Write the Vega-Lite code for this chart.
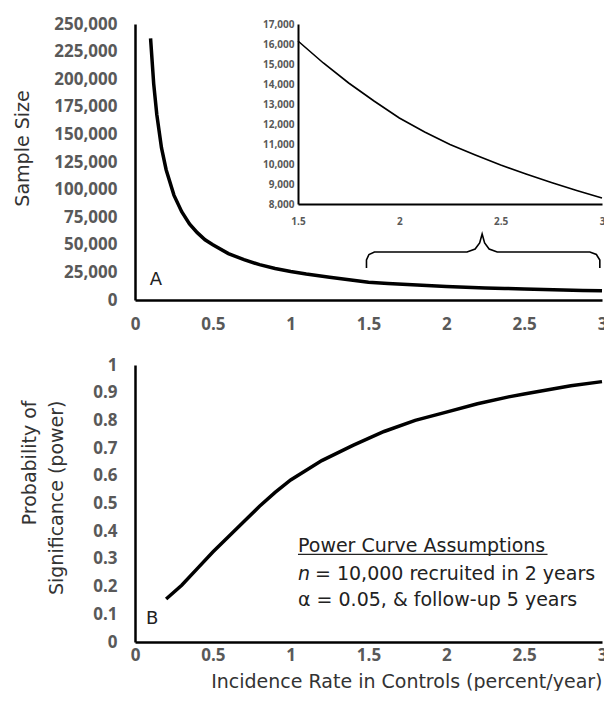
{
  "$schema": "https://vega.github.io/schema/vega-lite/v6.json",
  "background": "white",
  "padding": {"left": 13, "top": 15, "right": 0, "bottom": 0},
  "datasets": {
    "sample": [
      {"x": 0.1, "y": 237000}, {"x": 0.12, "y": 196000}, {"x": 0.14, "y": 168000},
      {"x": 0.17, "y": 138000}, {"x": 0.2, "y": 118000}, {"x": 0.25, "y": 95000},
      {"x": 0.3, "y": 80000}, {"x": 0.35, "y": 69000}, {"x": 0.4, "y": 61000},
      {"x": 0.45, "y": 54500}, {"x": 0.5, "y": 50000}, {"x": 0.6, "y": 42000},
      {"x": 0.7, "y": 36500}, {"x": 0.8, "y": 32000}, {"x": 0.9, "y": 28500},
      {"x": 1.0, "y": 25800}, {"x": 1.1, "y": 23500}, {"x": 1.25, "y": 20700},
      {"x": 1.375, "y": 18300}, {"x": 1.5, "y": 16150}, {"x": 1.625, "y": 15050},
      {"x": 1.75, "y": 14050}, {"x": 1.875, "y": 13150}, {"x": 2.0, "y": 12300},
      {"x": 2.125, "y": 11600}, {"x": 2.25, "y": 10980}, {"x": 2.375, "y": 10450},
      {"x": 2.5, "y": 9950}, {"x": 2.625, "y": 9500}, {"x": 2.75, "y": 9070},
      {"x": 2.875, "y": 8670}, {"x": 3.0, "y": 8300}
    ],
    "inset": [
      {"x": 1.5, "y": 16150}, {"x": 1.625, "y": 15050}, {"x": 1.75, "y": 14050},
      {"x": 1.875, "y": 13150}, {"x": 2.0, "y": 12300}, {"x": 2.125, "y": 11600},
      {"x": 2.25, "y": 10980}, {"x": 2.375, "y": 10450}, {"x": 2.5, "y": 9950},
      {"x": 2.625, "y": 9500}, {"x": 2.75, "y": 9070}, {"x": 2.875, "y": 8670},
      {"x": 3.0, "y": 8300}
    ],
    "brace": [
      {"i": 1, "x": 1.487, "y": 28986}, {"i": 2, "x": 1.487, "y": 36232},
      {"i": 3, "x": 1.503, "y": 41214}, {"i": 4, "x": 1.538, "y": 43478},
      {"i": 5, "x": 2.133, "y": 43478}, {"i": 6, "x": 2.185, "y": 46196},
      {"i": 7, "x": 2.214, "y": 51631}, {"i": 8, "x": 2.23, "y": 59783},
      {"i": 9, "x": 2.246, "y": 51631}, {"i": 10, "x": 2.275, "y": 46196},
      {"i": 11, "x": 2.327, "y": 43478}, {"i": 12, "x": 2.922, "y": 43478},
      {"i": 13, "x": 2.964, "y": 41214}, {"i": 14, "x": 2.986, "y": 36232},
      {"i": 15, "x": 2.986, "y": 28986}
    ],
    "power": [
      {"x": 0.2, "y": 0.155}, {"x": 0.3, "y": 0.205}, {"x": 0.4, "y": 0.265},
      {"x": 0.5, "y": 0.325}, {"x": 0.6, "y": 0.38}, {"x": 0.7, "y": 0.435},
      {"x": 0.8, "y": 0.49}, {"x": 0.9, "y": 0.54}, {"x": 1.0, "y": 0.585},
      {"x": 1.2, "y": 0.655}, {"x": 1.4, "y": 0.71}, {"x": 1.5, "y": 0.735},
      {"x": 1.6, "y": 0.76}, {"x": 1.8, "y": 0.8}, {"x": 2.0, "y": 0.83},
      {"x": 2.2, "y": 0.86}, {"x": 2.4, "y": 0.885}, {"x": 2.5, "y": 0.895},
      {"x": 2.6, "y": 0.905}, {"x": 2.8, "y": 0.925}, {"x": 3.0, "y": 0.94}
    ]
  },
  "vconcat": [
    {
      "width": 467,
      "height": 276,
      "layer": [
        {
          "encoding": {
            "x": {"field": "x", "type": "quantitative",
                  "scale": {"domain": [0, 3], "nice": false},
                  "axis": {"values": [0, 0.5, 1, 1.5, 2, 2.5, 3], "labelExpr": "format(datum.value, '~g')", "labelPadding": 16, "title": null}},
            "y": {"field": "y", "type": "quantitative",
                  "scale": {"domain": [0, 250000], "nice": false},
                  "axis": {"values": [0, 25000, 50000, 75000, 100000, 125000, 150000, 175000, 200000, 225000, 250000],
                           "labelExpr": "format(datum.value, ',')", "labelPadding": 18, "title": "Sample Size", "titlePadding": 21, "titleY": 124}}
          },
          "layer": [
            {
              "data": {"name": "sample"},
              "mark": {"type": "line", "color": "black", "strokeWidth": 3.5}
            },
            {
              "data": {"name": "brace"},
              "mark": {"type": "line", "color": "black", "strokeWidth": 1.6},
              "encoding": {
                "order": {"field": "i"}
              }
            },
            {
              "data": {"values": [{"x": 0.135, "y": 18100, "label": "A"}]},
              "mark": {"type": "text", "font": "DejaVu Sans", "fontSize": 18, "color": "#222", "baseline": "middle", "align": "center"},
              "encoding": {
                "text": {"field": "label"}
              }
            }
          ]
        },
        {
          "data": {"name": "inset"},
          "mark": {"type": "line", "color": "black", "strokeWidth": 1.6},
          "encoding": {
            "x": {"field": "x", "type": "quantitative",
                  "scale": {"domain": [1.5, 3], "nice": false, "range": [163, 467]},
                  "axis": {"orient": "bottom", "offset": -96, "values": [1.5, 2, 2.5, 3], "labelExpr": "format(datum.value, '~g')",
                           "labelFontSize": 10, "labelPadding": 12, "domainWidth": 2, "title": null}},
            "y": {"field": "y", "type": "quantitative",
                  "scale": {"domain": [8000, 17000], "nice": false, "range": [180, 0]},
                  "axis": {"orient": "left", "offset": -163,
                           "values": [8000, 9000, 10000, 11000, 12000, 13000, 14000, 15000, 16000, 17000],
                           "labelExpr": "format(datum.value, ',')", "labelFontSize": 10, "labelPadding": 4, "domainWidth": 2, "title": null}}
          }
        }
      ],
      "resolve": {"scale": {"x": "independent", "y": "independent"}}
    },
    {
      "width": 467,
      "height": 277,
      "encoding": {
        "x": {"field": "x", "type": "quantitative",
              "scale": {"domain": [0, 3], "nice": false},
              "axis": {"values": [0, 0.5, 1, 1.5, 2, 2.5, 3], "labelExpr": "format(datum.value, '~g')", "labelPadding": 5,
                       "title": "Incidence Rate in Controls (percent/year)", "titlePadding": 9, "titleAnchor": "end"}},
        "y": {"field": "y", "type": "quantitative",
              "scale": {"domain": [0, 1], "nice": false},
              "axis": {"values": [0, 0.1, 0.2, 0.3, 0.4, 0.5, 0.6, 0.7, 0.8, 0.9, 1], "labelExpr": "format(datum.value, '~g')",
                       "labelPadding": 18, "title": ["Probability of", "Significance (power)"],
                       "titlePadding": 26, "titleLineHeight": 27, "titleAlign": "right", "titleY": 35}}
      },
      "layer": [
        {
          "data": {"name": "power"},
          "mark": {"type": "line", "color": "black", "strokeWidth": 3.5}
        },
        {
          "data": {"values": [{"x": 0.11, "y": 0.083, "label": "B"}]},
          "mark": {"type": "text", "font": "DejaVu Sans", "fontSize": 18, "color": "#222", "baseline": "middle", "align": "center"},
          "encoding": {"text": {"field": "label"}}
        },
        {
          "data": {"values": [
            {"x": 1.047, "y": 0.325, "label": "Power Curve Assumptions"},
            {"x": 1.047, "y": 0.13, "label": "α = 0.05, & follow-up 5 years"}
          ]},
          "mark": {"type": "text", "font": "DejaVu Sans", "fontSize": 19, "color": "#222", "baseline": "alphabetic", "align": "left"},
          "encoding": {"text": {"field": "label"}}
        },
        {
          "data": {"values": [{"x": 1.047, "y": 0.224, "label": "n"}]},
          "mark": {"type": "text", "font": "DejaVu Sans", "fontSize": 19, "fontStyle": "italic", "color": "#222", "baseline": "alphabetic", "align": "left"},
          "encoding": {"text": {"field": "label"}}
        },
        {
          "data": {"values": [{"x": 1.047, "y": 0.224, "label": "= 10,000 recruited in 2 years"}]},
          "mark": {"type": "text", "font": "DejaVu Sans", "fontSize": 19, "dx": 17, "color": "#222", "baseline": "alphabetic", "align": "left"},
          "encoding": {"text": {"field": "label"}}
        },
        {
          "data": {"values": [{"x": 1.047, "x2": 2.65, "y": 0.316}]},
          "mark": {"type": "rule", "color": "#222", "strokeWidth": 1.2},
          "encoding": {"x2": {"field": "x2"}}
        }
      ]
    }
  ],
  "spacing": 24,
  "config": {
    "view": {"stroke": null},
    "font": "Open Sans",
    "axis": {
      "grid": false,
      "ticks": false,
      "labelOverlap": false,
      "labelFlush": false,
      "domainColor": "black",
      "domainWidth": 2.5,
      "labelColor": "#595959",
      "labelFontWeight": "bold",
      "labelFontSize": 17,
      "labelFont": "Open Sans",
      "titleFont": "DejaVu Sans",
      "titleFontWeight": "normal",
      "titleFontSize": 19,
      "titleColor": "#333"
    }
  }
}
